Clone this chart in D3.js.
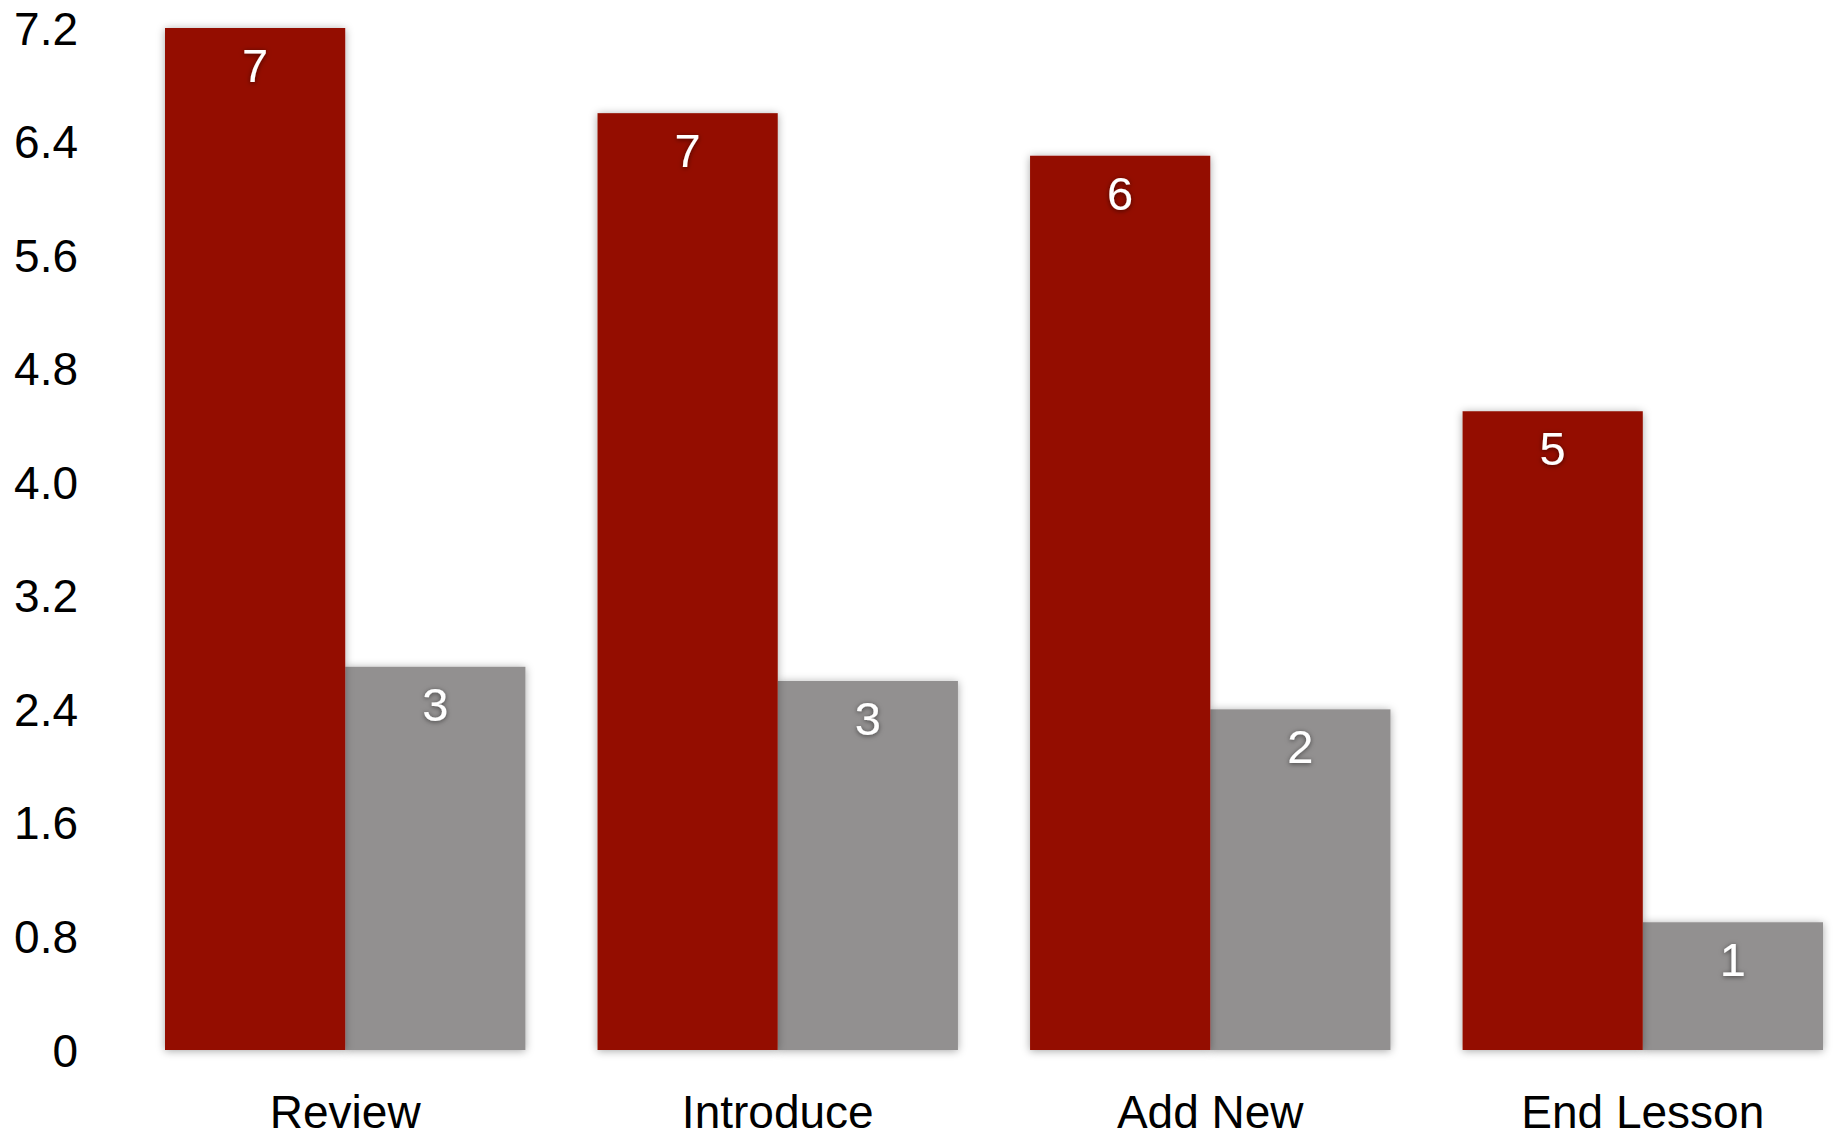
<!DOCTYPE html>
<html>
<head>
<meta charset="utf-8">
<script src="https://cdn.jsdelivr.net/npm/d3@7"></script>
<style>
  html, body { margin: 0; padding: 0; background: #ffffff; }
  svg { display: block; }
  text { font-family: "Liberation Sans", Arial, Helvetica, sans-serif; }
</style>
</head>
<body>
<svg id="chart" width="1833" height="1138"></svg>
<script>
// Lesson stages and the two compared series
const categories = ["Review", "Introduce", "Add New", "End Lesson"];
const seriesNames = ["first", "second"];
const firstValues = [7.2, 6.6, 6.3, 4.5];
const secondValues = [2.7, 2.6, 2.4, 0.9];
const yTicks = [0, 0.8, 1.6, 2.4, 3.2, 4.0, 4.8, 5.6, 6.4, 7.2];
const seriesColors = ["#941100", "#929090"];

const svg = d3.select("#chart");
const W = 1833, H = 1138;
const margin = { left: 165, right: 10, top: 28, bottom: 88 };

const defs = svg.append("defs");
defs.append("filter")
  .attr("id", "barShadow")
  .attr("x", "-20%").attr("y", "-20%").attr("width", "140%").attr("height", "140%")
  .append("feDropShadow")
  .attr("dx", 0).attr("dy", 1)
  .attr("stdDeviation", 4)
  .attr("flood-color", "#000")
  .attr("flood-opacity", 0.35);
defs.append("filter")
  .attr("id", "labelGlow")
  .attr("x", "-50%").attr("y", "-50%").attr("width", "200%").attr("height", "200%")
  .append("feDropShadow")
  .attr("dx", 0).attr("dy", 1)
  .attr("stdDeviation", 2.5)
  .attr("flood-color", "#000")
  .attr("flood-opacity", 0.55);

const x0 = d3.scaleBand()
  .domain(categories)
  .range([165, 1823])
  .paddingInner(0.1667)
  .paddingOuter(0);

const x1 = d3.scaleBand()
  .domain(seriesNames)
  .range([0, x0.bandwidth()])
  .padding(0);

const y = d3.scaleLinear()
  .domain([0, 7.2])
  .range([1050, 28]);

// Y axis: labels only, no line or tick marks
const fmt = d => d === 0 ? "0" : d3.format(".1f")(d);
const yAxis = svg.append("g")
  .attr("transform", "translate(78,0)")
  .call(d3.axisLeft(y).tickValues(yTicks).tickFormat(fmt).tickSize(0).tickPadding(0));
yAxis.select(".domain").remove();
yAxis.selectAll("text")
  .attr("font-size", 46)
  .attr("fill", "#000")
  .attr("font-family", "\"Liberation Sans\", Arial, Helvetica, sans-serif")
  .attr("dy", "0.35em");

// Category labels under each group
const xAxis = svg.append("g")
  .attr("transform", "translate(0,1050)")
  .call(d3.axisBottom(x0).tickSize(0).tickPadding(0));
xAxis.select(".domain").remove();
xAxis.selectAll("text")
  .attr("font-size", 46)
  .attr("fill", "#000")
  .attr("font-family", "\"Liberation Sans\", Arial, Helvetica, sans-serif")
  .attr("dy", null)
  .attr("y", 78);

const rows = categories.map((c, i) => ({
  category: c,
  values: [
    { key: "first", value: firstValues[i] },
    { key: "second", value: secondValues[i] }
  ]
}));

const groups = svg.append("g").selectAll("g.group")
  .data(rows)
  .join("g")
  .attr("class", "group")
  .attr("transform", d => `translate(${x0(d.category)},0)`);

// Grey bars first so the red bar's shadow falls onto them
const drawOrder = ["second", "first"];
drawOrder.forEach(key => {
  groups.append("rect")
    .datum(d => d.values.find(v => v.key === key))
    .attr("x", d => x1(d.key))
    .attr("y", d => y(d.value))
    .attr("width", x1.bandwidth())
    .attr("height", d => y(0) - y(d.value))
    .attr("fill", d => seriesColors[seriesNames.indexOf(d.key)])
    .attr("filter", "url(#barShadow)");
});

// Value labels inside the top of each bar, rounded to whole numbers
groups.selectAll("text.value")
  .data(d => d.values)
  .join("text")
  .attr("class", "value")
  .attr("x", d => x1(d.key) + x1.bandwidth() / 2)
  .attr("y", d => y(d.value) + 54)
  .attr("text-anchor", "middle")
  .attr("font-size", 47)
  .attr("fill", "#ffffff")
  .attr("filter", "url(#labelGlow)")
  .text(d => d3.format(".0f")(d.value));
</script>
</body>
</html>
